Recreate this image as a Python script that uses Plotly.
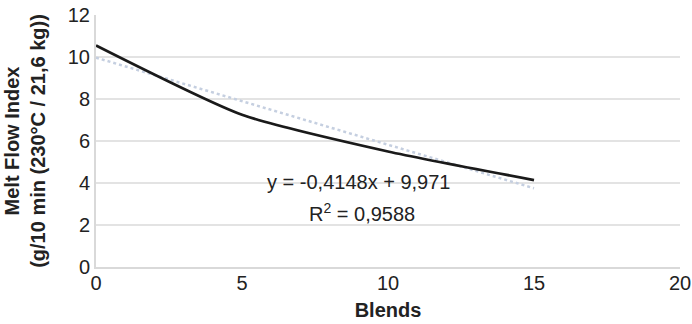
import plotly.graph_objects as go

blends = [0, 5, 10, 15]
mfi = [10.55, 7.25, 5.5, 4.14]
slope = -0.4148
intercept = 9.971
trend_x = [0, 15]
trend_y = [intercept + slope * x for x in trend_x]
eq_text = "y = -0,4148x + 9,971"
r2_text = "R<sup>2</sup> = 0,9588"

fig = go.Figure()
fig.add_trace(go.Scatter(x=trend_x, y=trend_y, mode="lines",
                         line=dict(color="#c5cfe0", width=2.5, dash="dot"),
                         showlegend=False, hoverinfo="skip"))
fig.add_trace(go.Scatter(x=blends, y=mfi, mode="lines",
                         line=dict(color="#1a1a1a", width=2.8, shape="spline", smoothing=0.6),
                         showlegend=False))

fig.add_annotation(x=9.0, y=4.04, text=eq_text, showarrow=False,
                   font=dict(size=20, color="#222"), xanchor="center", yanchor="middle")
fig.add_annotation(x=9.12, y=2.61, text=r2_text, showarrow=False,
                   font=dict(size=20, color="#222"), xanchor="center", yanchor="middle")

fig.update_layout(
    width=692, height=324,
    margin=dict(l=96, r=12, t=15, b=57),
    paper_bgcolor="white", plot_bgcolor="white",
    font=dict(family="Liberation Sans, Arial, sans-serif", color="#222"),
)
fig.update_xaxes(range=[0, 20], tickvals=[0, 5, 10, 15, 20], showgrid=False,
                 showline=True, linecolor="#d9d9d9", linewidth=2, zeroline=False,
                 tickfont=dict(size=20), ticks="", automargin=False,
                 ticklabeloverflow="allow", ticklabelstandoff=-3,
                 title=dict(text="<b>Blends</b>", font=dict(size=20), standoff=10))
fig.update_yaxes(range=[0, 12], tickvals=[0, 2, 4, 6, 8, 10, 12], showgrid=True,
                 gridcolor="#e3e3e3", gridwidth=1.5,
                 showline=True, linecolor="#d9d9d9", linewidth=2, zeroline=False,
                 tickfont=dict(size=20), ticks="", automargin=False,
                 ticklabeloverflow="allow",
                 title=dict(text="<b>Melt Flow Index<br>(g/10 min (230°C / 21,6 kg))</b>",
                            font=dict(size=20), standoff=17))

# remove the page's default 8px body margin so the 692x324 figure fills the window
fig.write_html("out.html", config={"displayModeBar": False},
               post_script="document.body.style.margin='0';")
